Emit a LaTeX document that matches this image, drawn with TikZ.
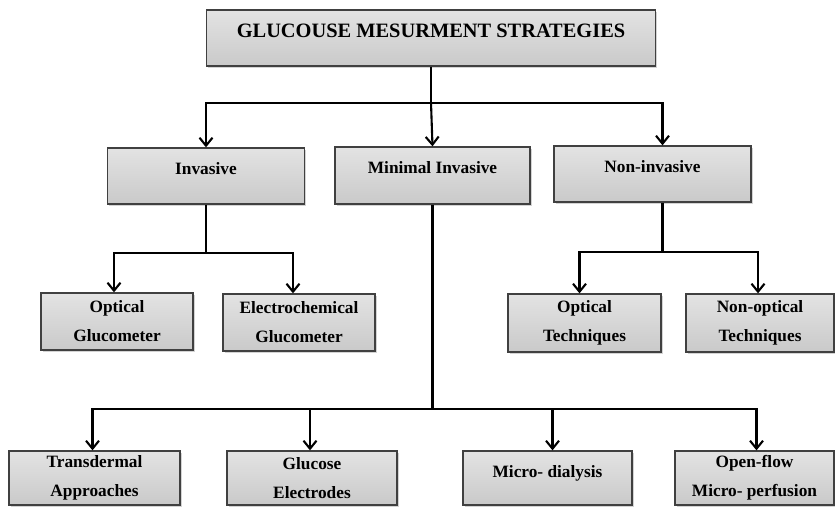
\documentclass[tikz,border=0pt]{standalone}
\usepackage{fontspec}
\setmainfont{Liberation Serif}
\usetikzlibrary{arrows.meta,shadows}

\tikzset{
    box/.style={draw=black!75, line width=1.3pt, inner sep=0pt, align=center,
        top color=gray!22, middle color=gray!6, bottom color=gray!42,
        drop shadow={shadow xshift=1.5pt, shadow yshift=-1.5pt, opacity=0.35},
        font=\bfseries\fontsize{17.3}{29}\selectfont},
    hightext/.style={text height=26.5pt, text depth=#1},
    link/.style={line width=2.1pt, black},
    arrow/.style={link, -{Straight Barb[length=8pt, width=13pt]}}
}

\begin{document}
\begin{tikzpicture}[x=1pt, y=-1pt]
        \useasboundingbox (0, 0) rectangle (835, 507);
        % top
        \node[box, minimum width=449pt, hightext=28.5pt, text height=27.5pt,
            font=\bfseries\fontsize{20.4}{22}\selectfont] (title) at (431, 38) {GLUCOUSE MESURMENT STRATEGIES};
        % first row
        \node[box, minimum width=197pt, hightext=29.5pt] (inv) at (206, 176) {Invasive};
        \node[box, minimum width=195pt, hightext=30.5pt] (minv) at (432.5, 175.5) {Minimal Invasive};
        \node[box, minimum width=197pt, hightext=29.5pt] (ninv) at (652.5, 174) {Non-invasive};
        % second row
        \node[box, minimum width=152pt, minimum height=57pt] (optg) at (117, 321.5) {Optical\\Glucometer};
        \node[box, minimum width=152pt, minimum height=57pt] (elg) at (299, 322.5) {Electrochemical\\Glucometer};
        \node[box, minimum width=153pt, minimum height=58pt] (optt) at (584.5, 323) {Optical\\Techniques};
        \node[box, minimum width=148pt, minimum height=58pt] (nopt) at (760, 323) {Non-optical\\Techniques};
        % third row
        \node[box, minimum width=171pt, minimum height=54pt] (trans) at (94.5, 478) {Transdermal\\Approaches};
        \node[box, minimum width=170pt, minimum height=54pt] (gel) at (312, 478) {Glucose\\Electrodes};
        \node[box, minimum width=169pt, hightext=27.5pt] (mdia) at (547.5, 478) {Micro- dialysis};
        \node[box, minimum width=159pt, minimum height=54pt] (oflow) at (754.5, 478) {Open-flow\\Micro- perfusion};

        % connectors
        \draw[link] (title.south) -- ++(0, 36) coordinate (s0);
        \draw[arrow] (s0) -| (inv.north);
        \draw[arrow] (s0) -- (minv.north);
        \draw[arrow] (s0) -| ([xshift=10pt]ninv.north);

        \draw[link] (inv.south) -- ++(0, 48) coordinate (s1);
        \draw[arrow] (s1) -| ([xshift=-3pt]optg.north);
        \draw[arrow] (s1) -| ([xshift=-6pt]elg.north);

        \draw[link] ([xshift=10pt]ninv.south) -- ++(0, 49) coordinate (s3);
        \draw[arrow] (s3) -| ([xshift=-5pt]optt.north);
        \draw[arrow] (s3) -| ([xshift=-2pt]nopt.north);

        \draw[link] (minv.south) -- ++(0, 204) coordinate (s2);
        \draw[arrow] (s2) -| ([xshift=-2pt]trans.north);
        \draw[arrow] (s2) -| ([xshift=-2pt]gel.north);
        \draw[arrow] (s2) -| ([xshift=5pt]mdia.north);
        \draw[arrow] (s2) -| ([xshift=2pt]oflow.north);
    \end{tikzpicture}
\end{document}
